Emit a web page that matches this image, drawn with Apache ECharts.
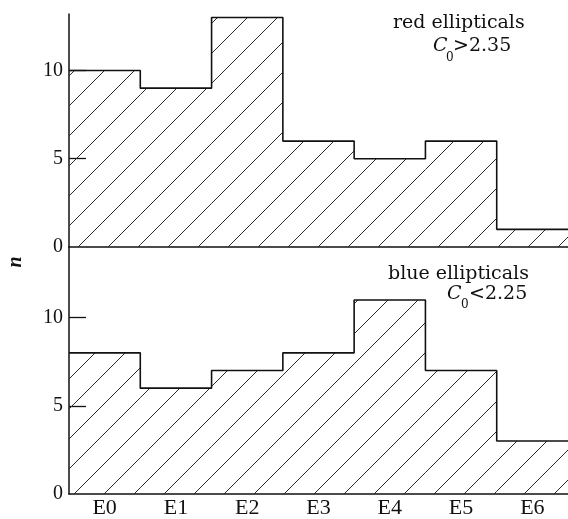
<!DOCTYPE html>
<html>
<head>
<meta charset="utf-8">
<script src="https://cdn.jsdelivr.net/npm/echarts@6/dist/echarts.min.js"></script>
<style>
html,body{margin:0;padding:0;background:#fff;}
#c{width:568px;height:519px;}
</style>
</head>
<body>
<div id="c"></div>
<script>
const categories = ['E0','E1','E2','E3','E4','E5','E6'];
const redValues = [10, 9, 13, 6, 5, 6, 1];
const blueValues = [8, 6, 7, 8, 11, 7, 3];
const yTickValues = [0, 5, 10];
const yInnerTicks = [5, 10];

function makeHatch(phase) {
  const t = document.createElement('canvas');
  t.width = 30; t.height = 30;
  const c = t.getContext('2d');
  c.strokeStyle = '#2a2a2a';
  c.lineWidth = 1;
  for (const k of [phase - 30, phase, phase + 30]) {
    c.beginPath();
    c.moveTo(k + 6, -6);
    c.lineTo(-6, k + 6);
    c.stroke();
  }
  return t;
}
function stepPts(vals) {
  const p = [];
  vals.forEach((v, i) => { p.push([i, v]); p.push([i + 1, v]); });
  return p;
}

const serif = 'Liberation Serif';
const annFont = 'DejaVu Serif';
const axisLineStyle = { color: '#111', width: 1.5 };

function yAxis(gridIndex, max) {
  return {
    type: 'value', gridIndex: gridIndex, min: 0, max: max, interval: 5,
    axisLine: { show: true, lineStyle: axisLineStyle },
    axisTick: { show: true, inside: true, length: 17, customValues: yInnerTicks, lineStyle: { color: '#111', width: 1.3 } },
    axisLabel: { customValues: yTickValues, margin: 6, color: '#111', fontFamily: serif, fontSize: 20 },
    splitLine: { show: false }
  };
}

const chart = echarts.init(document.getElementById('c'), null, { renderer: 'canvas' });
chart.setOption({
  animation: false,
  backgroundColor: '#fff',
  grid: [
    { left: 69, right: 0, top: 14, height: 233 },
    { left: 69, right: 0, top: 247, bottom: 22 }
  ],
  xAxis: [
    { type: 'category', gridIndex: 0, data: categories, boundaryGap: true,
      axisLine: { show: true, lineStyle: axisLineStyle }, axisTick: { show: false }, axisLabel: { show: false } },
    { type: 'value', gridIndex: 0, min: 0, max: 7, show: false },
    { type: 'category', gridIndex: 1, data: categories, boundaryGap: true,
      axisLine: { show: true, lineStyle: axisLineStyle }, axisTick: { show: false },
      axisLabel: { margin: 3, color: '#111', fontFamily: serif, fontSize: 22 } },
    { type: 'value', gridIndex: 1, min: 0, max: 7, show: false }
  ],
  yAxis: [ yAxis(0, 13.2), yAxis(1, 14) ],
  series: [
    { type: 'bar', xAxisIndex: 0, yAxisIndex: 0, data: redValues, barWidth: '100%', barCategoryGap: 0,
      itemStyle: { color: { image: makeHatch(25), repeat: 'repeat' } }, z: 1 },
    { type: 'bar', xAxisIndex: 2, yAxisIndex: 1, data: blueValues, barWidth: '100%', barCategoryGap: 0,
      itemStyle: { color: { image: makeHatch(28), repeat: 'repeat' } }, z: 1 },
    { type: 'line', xAxisIndex: 1, yAxisIndex: 0, data: stepPts(redValues), symbol: 'none',
      lineStyle: { color: '#111', width: 1.6 }, z: 5 },
    { type: 'line', xAxisIndex: 3, yAxisIndex: 1, data: stepPts(blueValues), symbol: 'none',
      lineStyle: { color: '#111', width: 1.6 }, z: 5 }
  ],
  graphic: [
    { type: 'text', left: 393, top: 14, style: { text: 'red ellipticals', font: '19px "' + annFont + '"', fill: '#111' } },
    { type: 'text', x: 433, y: 46, style: { text: 'C', font: 'italic 19px "' + annFont + '"', fill: '#111', verticalAlign: 'middle' } },
    { type: 'text', x: 446, y: 58, style: { text: '0', font: '12px "' + annFont + '"', fill: '#111', verticalAlign: 'middle' } },
    { type: 'text', x: 453, y: 46, style: { text: '>2.35', font: '19px "' + annFont + '"', fill: '#111', verticalAlign: 'middle' } },
    { type: 'text', left: 388, top: 265, style: { text: 'blue ellipticals', font: '19px "' + annFont + '"', fill: '#111' } },
    { type: 'text', x: 447, y: 294, style: { text: 'C', font: 'italic 19px "' + annFont + '"', fill: '#111', verticalAlign: 'middle' } },
    { type: 'text', x: 461, y: 305, style: { text: '0', font: '12px "' + annFont + '"', fill: '#111', verticalAlign: 'middle' } },
    { type: 'text', x: 469, y: 294, style: { text: '<2.25', font: '19px "' + annFont + '"', fill: '#111', verticalAlign: 'middle' } },
    { type: 'text', x: 16, y: 262, rotation: Math.PI / 2,
      style: { text: 'n', font: 'italic bold 20px "' + serif + '"', fill: '#111', align: 'center', verticalAlign: 'middle' } }
  ]
});
</script>
</body>
</html>
